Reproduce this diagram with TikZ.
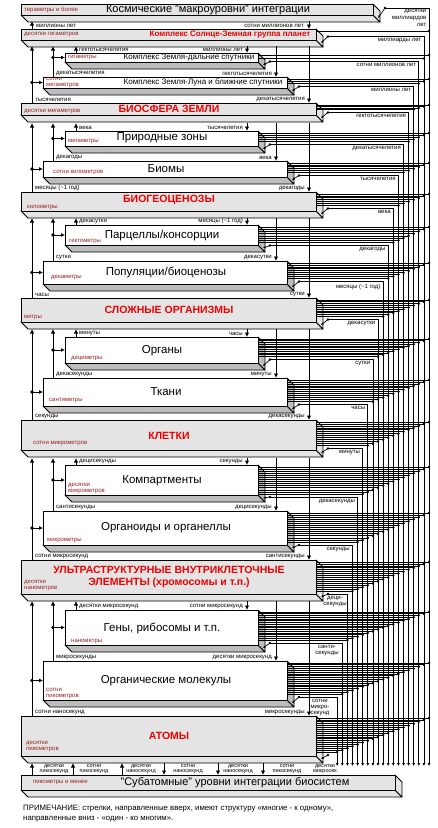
\documentclass[tikz,border=0pt]{standalone}
\usepackage{fontspec}
\setmainfont{Liberation Sans}
\usetikzlibrary{arrows.meta}
\definecolor{lvgray}{HTML}{E4E4E4}
\definecolor{slabgray}{HTML}{BDBDBD}
\definecolor{dred}{HTML}{9A2020}
\definecolor{tred}{HTML}{F00000}
\newcommand\fs[1]{\fontsize{#1}{#1}\selectfont}
\newcommand\lvbox[7]{%
  \filldraw[fill=#7, line width=0.9pt, line join=round] (#2,#5) -- (#3,#5) -- (#3+7,#5+7) -- (#2+7,#5+7) -- cycle;
  \filldraw[fill=#7, line width=0.9pt, line join=round] (#3,#4) -- (#3+7,#4+7) -- (#3+7,#5+7) -- (#3,#5) -- cycle;
  \node[draw, line width=1pt, fill=#6, anchor=north west, inner sep=0pt, outer sep=0pt,
        minimum width={(#3)-(#2)}, minimum height={(#5)-(#4)}] (#1) at (#2,#4) {};
}
\def\RR{{373,316,258,287,316,258,287,316,258,287,316,258,287,316,258,287,316,258,287,316}}
\def\YT{{4,29,53,77,103,131,161,192,225,261,298,337,378,420,465,511,560,610,661,716}}
\def\YF{{15,40,62,88,115,146,177,211,245,284,322,363,406,450,495,545,594,645,700,756}}
\def\YO{{8,36.5,61.5,86.5,112.5,144.5,175.5,208.5,245.5,281.5,319.5,359.5,404.5,448.5,497,545,594,643,697,755}}
\begin{document}
\begin{tikzpicture}[x=1pt,y=-1pt,
  redlab/.style={font=\fs{6}, text=dred, inner sep=0pt, align=left, anchor=west},
  tlab/.style={font=\fs{6}, inner sep=0pt},
  title/.style={font=\fs{11.5}, inner sep=0pt},
  rtitle/.style={font=\fs{10.5}\bfseries, text=tred, inner sep=0pt, align=center},
  arr/.style={line width=1pt, -{Latex[length=4.5pt,width=4.5pt]}},
  brarr/.style={line width=0.9pt, -{Latex[length=4pt,width=4pt]}},
  vline/.style={line width=0.75pt, -{Latex[length=3pt,width=3pt]}},
  bline/.style={line width=0.7pt},
  stub/.style={line width=0.7pt, -{Latex[length=2.5pt,width=2.5pt]}}]
\useasboundingbox (0,0) rectangle (438,828);
\fill[white] (0,0) rectangle (438,828);

% ---------- boxes ----------
\lvbox{b1}{21}{373}{4}{15}{lvgray}{lvgray}
\lvbox{b2}{21}{316}{29}{40}{lvgray}{lvgray}
\lvbox{b3}{65}{258}{53}{62}{white}{slabgray}
\lvbox{b4}{43}{287}{77}{88}{white}{slabgray}
\lvbox{b5}{21}{316}{103}{115}{lvgray}{lvgray}
\lvbox{b6}{65}{258}{131}{146}{white}{slabgray}
\lvbox{b7}{43}{287}{161}{177}{white}{slabgray}
\lvbox{b8}{21}{316}{192}{211}{lvgray}{lvgray}
\lvbox{b9}{65}{258}{225}{245}{white}{slabgray}
\lvbox{b10}{43}{287}{261}{284}{white}{slabgray}
\lvbox{b11}{21}{316}{298}{322}{lvgray}{lvgray}
\lvbox{b12}{65}{258}{337}{363}{white}{slabgray}
\lvbox{b13}{43}{287}{378}{406}{white}{slabgray}
\lvbox{b14}{21}{316}{420}{450}{lvgray}{lvgray}
\lvbox{b15}{65}{258}{465}{495}{white}{slabgray}
\lvbox{b16}{43}{287}{511}{545}{white}{slabgray}
\lvbox{b17}{21}{316}{560}{594}{lvgray}{lvgray}
\lvbox{b18}{65}{258}{610}{645}{white}{slabgray}
\lvbox{b19}{43}{287}{661}{700}{white}{slabgray}
\lvbox{b20}{21}{316}{716}{756}{lvgray}{lvgray}
\lvbox{b21}{21}{395}{775}{790}{lvgray}{lvgray}

% ---------- titles ----------
\node[title, font=\fs{11}] (t1) at (208,9.5) {Космические "макроуровни" интеграции};
\node[rtitle, font=\fs{8}\bfseries] (t2) at (230,34.5) {Комплекс Солнце-Земная группа планет};
\node[title, font=\fs{8}] (t3) at (189,58) {Комплекс Земля-дальние спутники};
\node[title, font=\fs{8}] (t4) at (203,82.5) {Комплекс Земля-Луна и ближние спутники};
\node[rtitle] (t5) at (169,109) {БИОСФЕРА ЗЕМЛИ};
\node[title] (t6) at (162,138) {Природные зоны};
\node[title] (t7) at (166,169) {Биомы};
\node[rtitle] (t8) at (169,200) {БИОГЕОЦЕНОЗЫ};
\node[title] (t9) at (162,236) {Парцеллы/консорции};
\node[title] (t10) at (166,272) {Популяции/биоценозы};
\node[rtitle] (t11) at (169,310) {СЛОЖНЫЕ ОРГАНИЗМЫ};
\node[title] (t12) at (162,351) {Органы};
\node[title] (t13) at (166,392) {Ткани};
\node[rtitle] (t14) at (169,436) {КЛЕТКИ};
\node[title] (t15) at (162,481) {Компартменты};
\node[title] (t16) at (166,528) {Органоиды и органеллы};
\node[rtitle, font=\fs{10.5}\bfseries, align=center] (t17) at (169,577) {УЛЬТРАСТРУКТУРНЫЕ ВНУТРИКЛЕТОЧНЫЕ\\[1pt]ЭЛЕМЕНТЫ (хромосомы и т.п.)};
\node[title] (t18) at (162,628) {Гены, рибосомы и т.п.};
\node[title] (t19) at (166,681) {Органические молекулы};
\node[rtitle] (t20) at (169,736) {АТОМЫ};
\node[title, font=\fs{11}] (t21) at (235,782.5) {"Субатомные" уровни интеграции биосистем};

% ---------- red size labels ----------
\node[redlab] (r1) at (24,9.5) {тераметры и более};
\node[redlab] (r2) at (24,35) {десятки гигаметров};
\node[redlab] (r3) at (68,57.5) {гигаметры};
\node[redlab] (r4) at (46,83) {сотни\\мегаметров};
\node[redlab] (r5) at (24,112) {десятки мегаметров};
\node[redlab] (r6) at (68,141.5) {мегаметры};
\node[redlab] (r7) at (53,173) {сотни километров};
\node[redlab] (r8) at (27,208) {километры};
\node[redlab] (r9) at (69,241.5) {гектометры};
\node[redlab] (r10) at (51,278) {декаметры};
\node[redlab] (r11) at (24,318) {метры};
\node[redlab] (r12) at (71,358.5) {дециметры};
\node[redlab] (r13) at (49,401) {сантиметры};
\node[redlab] (r14) at (33,444) {сотни микрометров};
\node[redlab] (r15) at (68,488.5) {десятки\\микрометров};
\node[redlab] (r16) at (47,541) {микрометры};
\node[redlab] (r17) at (24,585.5) {десятки\\нанометров};
\node[redlab] (r18) at (71,641.5) {нанометры};
\node[redlab] (r19) at (46,693.5) {сотни\\пикометров};
\node[redlab] (r20) at (26,746) {десятки\\пикометров};
\node[redlab] (r21) at (33,782.5) {пикометры и менее};

% ---------- Космические <-> Солнце ----------
\draw[arr] (32,29) -- (32,21);
\draw[arr] (309,21) -- (309,29);
\node[tlab, anchor=south west] (l0a) at (36,27.5) {миллионы лет};
\node[tlab, anchor=south east] (l0b) at (304,27.5) {сотни миллионов лет};

% ---------- groups ----------
\foreach \gs/\at/\am/\bt/\bm/\gt/\aa/\ab/\ac/\da/\db/\dc in {
  46/53/57.5/77/82.5/103/гектотысячелетия/декатысячелетия/тысячелетия/миллионы лет/гектотысячелетия/декатысячелетия,
  123/131/138.5/161/169/192/века/декагоды/месяцы (\textasciitilde1 год)/тысячелетия/века/декагоды,
  218/225/235/261/272.5/298/декасутки/сутки/часы/месяцы (\textasciitilde1 год)/декасутки/сутки,
  329/337/350/378/392/420/минуты/декасекунды/секунды/часы/минуты/декасекунды,
  458/465/480/511/528/560/децисекунды/сантисекунды/сотни микросекунд/секунды/децисекунды/сантисекунды,
  601/610/627.5/661/680.5/716/десятки микросекунд/микросекунды/сотни наносекунд/сотни микросекунд/десятки микросекунд/микросекунды}{
  \draw[arr] (76,\at) -- (76,\gs);
  \draw[arr] (53,\bt) -- (53,\gs);
  \draw[arr] (32,\gt) -- (32,\gs);
  \fill (53,\am) circle (1.8);
  \draw[brarr] (53,\am) -- (65,\am);
  \fill (32,\bm) circle (1.8);
  \draw[brarr] (32,\bm) -- (43,\bm);
  \draw[arr] (247,\gs) -- (247,\at);
  \draw[arr] (276,\gs) -- (276,\bt);
  \draw[arr] (309,\gs) -- (309,\gt);
  \node[tlab, anchor=south west] at (79,\at-1) {\aa};
  \node[tlab, anchor=south west] at (56,\bt-1) {\ab};
  \node[tlab, anchor=south west] at (35,\gt-1) {\ac};
  \node[tlab, anchor=south east] at (243,\at-1) {\da};
  \node[tlab, anchor=south east] at (272,\bt-1) {\db};
  \node[tlab, anchor=south east] at (305,\gt-1) {\dc};
}

% ---------- right side: bundles into each level ----------
\foreach \m in {2,...,20}{
  \pgfmathsetmacro\R{\RR[\m-1]}
  \pgfmathsetmacro\yt{\YT[\m-1]}
  \pgfmathsetmacro\yE{\YO[\m-1]-3}
  \pgfmathtruncatemacro\n{\m-1}
  \foreach \i in {1,...,\n}{
    \pgfmathsetmacro\yy{\yt+2+(\i-1)*(\yE-\yt-2)/max(\n-1,1)}
    \pgfmathsetmacro\xx{429-(\i-1)*5.1}
    \draw[bline] (\R+1,\yy) -- (\xx,\yy);
    \fill (\xx,\yy) circle (1.4);
  }
}

% ---------- right side: outputs and verticals ----------
\foreach \k in {1,...,19}{
  \pgfmathsetmacro\R{\RR[\k-1]}
  \pgfmathsetmacro\yo{\YO[\k-1]}
  \pgfmathsetmacro\yf{\YF[\k-1]}
  \pgfmathsetmacro\xx{429-(\k-1)*5.1}
  \draw[vline] (\R+12,\yo) -- (\xx,\yo) -- (\xx,766);
  \fill (\R+12,\yo) circle (1.4);
  \draw[stub] (\R+12,\yo) -- (\R+5,\yf+3);
}
\fill (328,755) circle (1.4);
\draw[stub] (328,755) -- (321,759);

% right time labels
\foreach \k/\txt in {2/миллиарды лет,3/сотни миллионов лет,4/миллионы лет,5/гектотысячелетия,
  6/декатысячелетия,7/тысячелетия,8/века,9/декагоды,10/месяцы (\textasciitilde1 год),11/декасутки,
  12/сутки,13/часы,14/минуты,15/декасекунды,16/секунды}{
  \pgfmathsetmacro\yo{\YO[\k-1]}
  \pgfmathsetmacro\xx{429-(\k-1)*5.1}
  \node[tlab, anchor=north east] at (\xx-2.5,\yo+2) {\txt};
}
\node[tlab, anchor=north east, align=right, font=\fs{6}\linespread{1.15}\selectfont] (rt1) at (426.5,9.5) {десятки\\миллиардов\\лет};
\node[tlab, anchor=north, align=center] (rt17) at (335,596) {деци-\\секунды};
\node[tlab, anchor=north, align=center] (rt18) at (327,645) {санти-\\секунды};
\node[tlab, anchor=north, align=center] (rt19) at (320,699) {сотни\\микро-\\секунд};

% ---------- АТОМЫ <-> Субатомные ----------
\foreach \x in {32,73,122}{\draw[arr] (\x,775) -- (\x,763);}
\foreach \x in {164,218,263}{\draw[arr] (\x,763) -- (\x,775);}
\foreach \x/\txt in {54/десятки\\пикосекунд,94/сотни\\пикосекунд,141/десятки\\наносекунд,
  188/сотни\\наносекунд,238/десятки\\наносекунд,287/сотни\\пикосекунд,325/десятки\\микросек}{
  \node[tlab, font=\fs{5.5}, align=center] at (\x,769) {\txt};
}

% ---------- note ----------
\node[font=\fs{7.8}, anchor=west, inner sep=0pt] (note1) at (23,809) {ПРИМЕЧАНИЕ: стрелки, направленные вверх, имеют структуру «многие - к одному»,};
\node[font=\fs{7.8}, anchor=west, inner sep=0pt] (note2) at (23,819.5) {направленные вниз - «один - ко многим».};
\end{tikzpicture}
\end{document}
